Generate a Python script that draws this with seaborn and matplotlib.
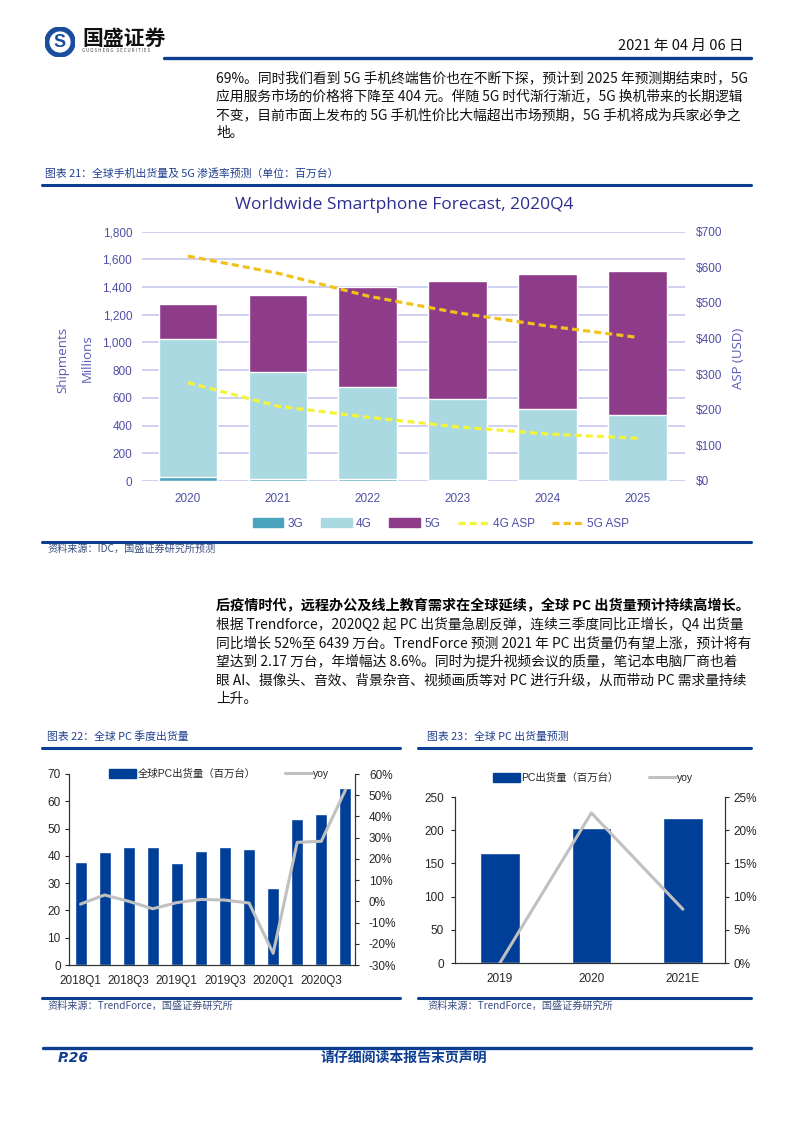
import numpy as np
import pandas as pd
import seaborn as sns
import matplotlib.pyplot as plt
from matplotlib.patches import Patch, Circle
from matplotlib.lines import Line2D

# chart 21: smartphone forecast (millions / USD)
years = ['2020', '2021', '2022', '2023', '2024', '2025']
ship_3g = [26, 18, 15, 10, 8, 3]
ship_4g = [999, 771, 666, 584, 512, 473]
ship_5g = [253, 554, 715, 850, 972, 1042]
asp_4g = [276, 210, 179, 152, 132, 120]
asp_5g = [631, 583, 519, 472, 435, 403]

# chart 22: quarterly PC shipments
quarters = ['2018Q1', '2018Q2', '2018Q3', '2018Q4', '2019Q1', '2019Q2',
            '2019Q3', '2019Q4', '2020Q1', '2020Q2', '2020Q3', '2020Q4']
pc_q_ship = [37.6, 41.4, 43.1, 43.1, 37.2, 41.8, 43.3, 42.6, 28.2, 53.4, 55.3, 64.7]
pc_q_yoy = [-1.3, 3.0, 0.0, -3.5, -0.6, 0.9, 0.6, -0.8, -24.5, 27.8, 28.3, 52.4]

# chart 23: yearly PC shipments
pc_years = ['2019', '2020', '2021E']
pc_y_ship = [165, 203, 219]
pc_y_yoy = [0.0, 22.6, 8.1]

sns.set_style('white')
plt.rcParams['font.family'] = ['Liberation Sans', 'Noto Sans CJK SC']
CJK = ['Noto Sans CJK SC', 'DejaVu Sans']

W, H = 794, 1123
BLUE = '#0b3d91'
fig = plt.figure(figsize=(W / 100, H / 100), dpi=100)


def box(x0, y0, x1, y1):
    return [x0 / W, 1 - y1 / H, (x1 - x0) / W, (y1 - y0) / H]


def text(x, y, s, **kw):
    kw.setdefault('va', 'center')
    kw.setdefault('family', CJK)
    fig.text(x / W, 1 - y / H, s, **kw)


def hline(y, x0, x1, lw=2.0, color=BLUE):
    fig.add_artist(Line2D([x0 / W, x1 / W], [1 - y / H] * 2, lw=lw, color=color))


# ---- header ----
logo = fig.add_axes(box(45, 27, 75, 57))
logo.set_xlim(-1, 1)
logo.set_ylim(-1, 1)
logo.set_aspect('equal')
logo.axis('off')
logo.add_patch(Circle((0, 0), 1, color='#1b4d9e'))
logo.add_patch(Circle((0, 0), 0.66, color='white'))
logo.text(0, -0.05, 'S', ha='center', va='center', fontsize=13, fontweight='bold', color='#1b4d9e')
text(82, 38, '国盛证券', fontsize=15, fontweight='bold', color='#111111')
text(82, 51, 'G U O S H E N G   S E C U R I T I E S', fontsize=3.2, color='#444444')
text(743, 46, '2021 年 04 月 06 日', ha='right', fontsize=10.5, color='#111111')
hline(58, 164, 751, lw=2.4)

para1 = ['69%。同时我们看到 5G 手机终端售价也在不断下探，预计到 2025 年预测期结束时，5G',
         '应用服务市场的价格将下降至 404 元。伴随 5G 时代渐行渐近，5G 换机带来的长期逻辑',
         '不变，目前市面上发布的 5G 手机性价比大幅超出市场预期，5G 手机将成为兵家必争之',
         '地。']
for i, line in enumerate(para1):
    text(216, 78 + i * 18.5, line, fontsize=9.95, color='#111111')

# ---- chart 21 ----
text(45, 173, '图表 21：全球手机出货量及 5G 渗透率预测（单位：百万台）', fontsize=7.8,
     color='#1f3f8f', style='italic')
hline(185, 42, 751, lw=2.2)
text(404, 205, 'Worldwide Smartphone Forecast, 2020Q4', ha='center', fontsize=12.5,
     color='#2e2e8f', family=['Open Sans', 'DejaVu Sans'])

TXT = '#4f4fa6'
ax1 = fig.add_axes(box(142, 231.5, 685, 481))
top = np.array(ship_3g) + np.array(ship_4g) + np.array(ship_5g)
mid = np.array(ship_3g) + np.array(ship_4g)
sns.barplot(x=years, y=top, color='#8e3b8a', width=0.65, saturation=1, errorbar=None, ax=ax1)
sns.barplot(x=years, y=mid, color='#aad9e2', width=0.65, saturation=1, errorbar=None, ax=ax1)
sns.barplot(x=years, y=ship_3g, color='#4ba4bd', width=0.65, saturation=1, errorbar=None, ax=ax1)
ax1.set_ylim(0, 1800)
ax1.set_xlim(-0.51, 5.53)
ax1.set_yticks(range(0, 1801, 200))
ax1.set_yticklabels([f'{v:,}' for v in range(0, 1801, 200)])
ax1.yaxis.grid(True, color='#cfcff2', lw=1.4)
ax1.set_axisbelow(True)
for s in ax1.spines.values():
    s.set_visible(False)
ax1.tick_params(length=0, labelsize=8.5, labelcolor=TXT)
ax1.tick_params(axis='y', pad=7)
ax1.tick_params(axis='x', pad=9)
ax1.set_xlabel('')
ax1.set_ylabel('')

ax1b = ax1.twinx()
sns.lineplot(x=np.arange(len(years)), y=asp_4g, color='#f3f33c', lw=2.3,
             linestyle=(0, (2.2, 1.3)), ax=ax1b)
sns.lineplot(x=np.arange(len(years)), y=asp_5g, color='#f2c11c', lw=2.3,
             linestyle=(0, (2.2, 1.3)), ax=ax1b)
ax1b.set_ylim(0, 700)
ax1b.set_yticks(range(0, 701, 100))
ax1b.set_yticklabels([f'${v}' for v in range(0, 701, 100)])
for s in ax1b.spines.values():
    s.set_visible(False)
ax1b.tick_params(length=0, labelsize=8.5, labelcolor=TXT, pad=8)
ax1b.set_xlim(-0.51, 5.53)

text(63, 360, 'Shipments', rotation=90, ha='center', fontsize=9.5, color='#5a5ab5',
     family=['Open Sans', 'DejaVu Sans'])
text(87, 358, 'Millions', rotation=90, ha='center', fontsize=9.5, color='#5a5ab5',
     family=['Open Sans', 'DejaVu Sans'])
text(739, 358, 'ASP (USD)', rotation=90, ha='center', fontsize=9.5, color='#5a5ab5',
     family=['Open Sans', 'DejaVu Sans'])

h1 = [Patch(color='#4ba4bd'), Patch(color='#aad9e2'), Patch(color='#8e3b8a'),
      Line2D([], [], color='#f3f33c', lw=2.3, ls=(0, (2.2, 1.3))),
      Line2D([], [], color='#f2c11c', lw=2.3, ls=(0, (2.2, 1.3)))]
leg1 = fig.legend(h1, ['3G', '4G', '5G', '4G ASP', '5G ASP'], loc='center',
                  bbox_to_anchor=(441 / W, 1 - 524 / H), ncol=5, frameon=False,
                  fontsize=8.5, handlelength=2.6, handleheight=0.8, handletextpad=0.35,
                  columnspacing=1.5)
for t in leg1.get_texts():
    t.set_color(TXT)

hline(542, 42, 751, lw=2.2)
text(47, 549, '资料来源：IDC，国盛证券研究所预测', fontsize=7.3, color='#3b4f80', style='italic')

# ---- paragraph 2 ----
text(216, 606, '后疫情时代，远程办公及线上教育需求在全球延续，全球 PC 出货量预计持续高增长。',
     fontsize=10.2, fontweight='bold', color='#000000')
para2 = ['根据 Trendforce，2020Q2 起 PC 出货量急剧反弹，连续三季度同比正增长，Q4 出货量',
         '同比增长 52%至 6439 万台。TrendForce 预测 2021 年 PC 出货量仍有望上涨，预计将有',
         '望达到 2.17 万台，年增幅达 8.6%。同时为提升视频会议的质量，笔记本电脑厂商也着',
         '眼 AI、摄像头、音效、背景杂音、视频画质等对 PC 进行升级，从而带动 PC 需求量持续',
         '上升。']
for i, line in enumerate(para2):
    text(216, 624.5 + i * 18.5, line, fontsize=9.9, color='#111111')

# ---- chart 22 ----
PCBLUE = '#003f98'
GRAY = '#c0c0c0'
text(47, 737, '图表 22：全球 PC 季度出货量', fontsize=7.8, color='#1f3f8f', style='italic')
hline(748, 42, 400, lw=2.2)
ax2 = fig.add_axes(box(69, 774, 355, 965))
sns.barplot(x=quarters, y=pc_q_ship, color=PCBLUE, width=0.5, saturation=1, errorbar=None, ax=ax2)
ax2.set_ylim(0, 70)
ax2.set_xlim(-0.48, 11.4)
ax2.set_yticks(range(0, 71, 10))
ax2.set_xticks(range(0, 12, 2))
ax2.set_xticklabels(quarters[::2])
ax2.set_xlabel('')
ax2.set_ylabel('')
ax2b = ax2.twinx()
sns.lineplot(x=np.arange(len(quarters)), y=pc_q_yoy, color=GRAY, lw=2.2, ax=ax2b)
ax2b.set_ylim(-30, 60)
ax2b.set_yticks(range(-30, 61, 10))
ax2b.set_yticklabels([f'{v}%' for v in range(-30, 61, 10)])
ax2b.set_xlim(-0.48, 11.4)
for a in (ax2, ax2b):
    a.spines['top'].set_visible(False)
    for s in ('left', 'right', 'bottom'):
        a.spines[s].set_color('#333333')
        a.spines[s].set_linewidth(0.8)
ax2.tick_params(axis='y', direction='out', length=3, width=0.8, labelsize=8.5, pad=3, left=True)
ax2.tick_params(axis='x', length=0, labelsize=8.5, pad=7)
ax2b.tick_params(axis='y', direction='out', length=3, width=0.8, labelsize=8.5, pad=7, right=True)

h2 = [Patch(color=PCBLUE), Line2D([], [], color=GRAY, lw=2.2)]
ax2.legend(h2, ['全球PC出货量（百万台）', 'yoy'], loc='center',
           bbox_to_anchor=(219 / W, 1 - 774 / H), bbox_transform=fig.transFigure,
           ncol=2, frameon=False, fontsize=7.5, handlelength=2.6, handleheight=0.9,
           handletextpad=0.1, columnspacing=2.8)
hline(998, 42, 400, lw=2.2)
text(47, 1006, '资料来源：TrendForce，国盛证券研究所', fontsize=7.3, color='#3b4f80', style='italic')

# ---- chart 23 ----
text(427, 737, '图表 23：全球 PC 出货量预测', fontsize=7.8, color='#1f3f8f', style='italic')
hline(748, 418, 751, lw=2.2)
ax3 = fig.add_axes(box(455, 797, 725, 963))
sns.barplot(x=pc_years, y=pc_y_ship, color=PCBLUE, width=0.43, saturation=1, errorbar=None, ax=ax3)
ax3.set_ylim(0, 250)
ax3.set_xlim(-0.49, 2.46)
ax3.set_yticks(range(0, 251, 50))
ax3.set_xlabel('')
ax3.set_ylabel('')
ax3b = ax3.twinx()
sns.lineplot(x=np.arange(len(pc_years)), y=pc_y_yoy, color=GRAY, lw=2.2, ax=ax3b)
ax3b.set_ylim(0, 25)
ax3b.set_yticks(range(0, 26, 5))
ax3b.set_yticklabels([f'{v}%' for v in range(0, 26, 5)])
ax3b.set_xlim(-0.49, 2.46)
for a in (ax3, ax3b):
    a.spines['top'].set_visible(False)
    for s in ('left', 'right', 'bottom'):
        a.spines[s].set_color('#333333')
        a.spines[s].set_linewidth(0.8)
ax3.tick_params(axis='y', direction='out', length=3, width=0.8, labelsize=8.5, pad=5, left=True)
ax3.tick_params(axis='x', length=0, labelsize=8.5, pad=7)
ax3b.tick_params(axis='y', direction='out', length=3, width=0.8, labelsize=8.5, pad=3, right=True)

h3 = [Patch(color=PCBLUE), Line2D([], [], color=GRAY, lw=2.2)]
ax3.legend(h3, ['PC出货量（百万台）', 'yoy'], loc='center',
           bbox_to_anchor=(593 / W, 1 - 778 / H), bbox_transform=fig.transFigure,
           ncol=2, frameon=False, fontsize=7.5, handlelength=2.6, handleheight=0.9,
           handletextpad=0.1, columnspacing=3.0)
hline(998, 418, 751, lw=2.2)
text(427, 1006, '资料来源：TrendForce，国盛证券研究所', fontsize=7.3, color='#3b4f80', style='italic')

# ---- footer ----
hline(1048, 43, 751, lw=2.4)
text(58, 1058, 'P.26', fontsize=10, fontweight='bold', style='italic', color=BLUE,
     family=['DejaVu Sans'])
text(404, 1058, '请仔细阅读本报告末页声明', ha='center', fontsize=10, fontweight='bold',
     color=BLUE)

fig.savefig('out.png', dpi=100)
